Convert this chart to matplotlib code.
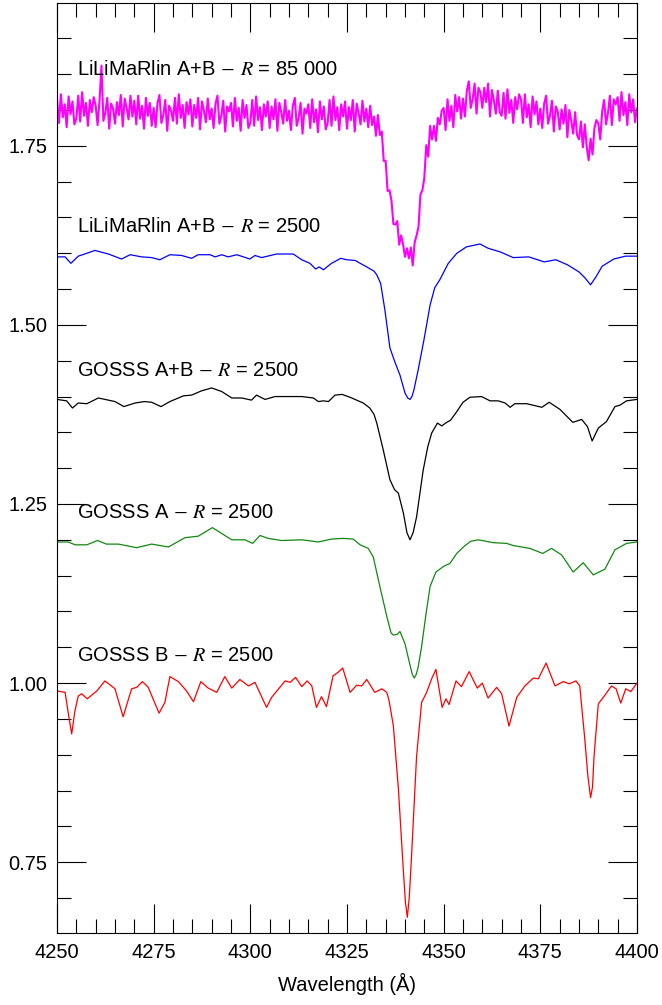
import matplotlib
matplotlib.use("Agg")
import matplotlib.pyplot as plt
from matplotlib.ticker import MultipleLocator, FormatStrFormatter
import numpy as np

plt.rcParams['font.family'] = ['Liberation Sans', 'DejaVu Sans']
plt.rcParams['mathtext.fontset'] = 'stix'

# continuum level of each normalized spectrum in the stack
offsets = [1.8, 1.6, 1.4, 1.2, 1.0]
labels = [r"LiLiMaRlin A+B $-$ $R$ = 85 000",
          r"LiLiMaRlin A+B $-$ $R$ = 2500",
          r"GOSSS A+B $-$ $R$ = 2500",
          r"GOSSS A $-$ $R$ = 2500",
          r"GOSSS B $-$ $R$ = 2500"]
label_y = [1.849, 1.630, 1.429, 1.230, 1.031]
colors = ["#ff00ff", "#0000ff", "#000000", "#118811", "#ff0000"]
widths = [1.5, 0.9, 0.9, 0.9, 0.9]

# high resolution spectrum, sampled every 0.5 A from 4250 to 4400
hires_flux = [
    1.015, 0.982, 1.022, 0.990, 1.008, 0.976, 1.019, 0.994, 1.012, 0.980,
    0.988, 1.020, 0.984, 1.025, 0.992, 1.010, 0.978, 1.014, 0.997, 1.018,
    1.006, 0.979, 1.013, 1.062, 0.985, 0.996, 1.017, 0.974, 1.009, 1.002,
    0.981, 1.011, 0.993, 1.021, 0.977, 1.016, 1.003, 0.987, 1.020, 0.991,
    1.013, 0.980, 1.020, 0.988, 1.006, 0.974, 1.017, 0.992, 1.010, 0.978,
    1.003, 0.976, 1.010, 1.021, 0.982, 0.993, 1.014, 0.971, 1.006, 0.999,
    0.985, 1.017, 0.981, 1.022, 0.989, 1.007, 0.975, 1.011, 0.994, 1.015,
    0.977, 1.007, 0.989, 1.017, 0.973, 1.012, 0.999, 0.983, 1.016, 0.987,
    1.002, 0.975, 1.009, 1.020, 0.981, 0.992, 1.013, 0.970, 1.005, 0.998,
    1.010, 0.977, 1.017, 0.985, 1.003, 0.971, 1.014, 0.989, 1.007, 0.975,
    0.982, 1.014, 0.978, 1.019, 0.986, 1.004, 0.972, 1.008, 0.991, 1.012,
    0.975, 1.005, 0.987, 1.015, 0.971, 1.010, 0.997, 0.981, 1.014, 0.985,
    0.999, 0.972, 1.006, 1.017, 0.978, 0.989, 1.010, 0.967, 1.002, 0.995,
    1.008, 0.975, 1.015, 0.983, 1.001, 0.969, 1.012, 0.987, 1.005, 0.973,
    0.982, 1.014, 0.978, 1.019, 0.986, 1.004, 0.972, 1.008, 0.991, 1.012,
    0.974, 1.004, 0.986, 1.014, 0.970, 1.009, 0.996, 0.980, 1.013, 0.984,
    1.002, 0.976, 1.006, 0.979, 0.991, 0.964, 0.993, 0.965, 0.970, 0.929,
    0.929, 0.887, 0.888, 0.874, 0.841, 0.840, 0.845, 0.812, 0.825, 0.813,
    0.795, 0.807, 0.793, 0.808, 0.783, 0.815, 0.825, 0.837, 0.882, 0.888,
    0.905, 0.951, 0.935, 0.978, 0.959, 0.978, 0.957, 0.989, 0.980, 0.999,
    1.003, 0.972, 1.015, 0.985, 1.006, 0.976, 1.021, 0.998, 1.018, 0.988,
    1.016, 0.991, 1.027, 1.040, 1.003, 1.015, 1.037, 0.995, 1.031, 1.025,
    1.003, 1.031, 1.011, 1.037, 0.991, 1.028, 1.013, 0.995, 1.027, 0.997,
    0.992, 1.024, 0.988, 1.029, 0.996, 1.014, 0.982, 1.018, 1.001, 1.022,
    1.015, 0.982, 1.022, 0.990, 1.008, 0.976, 1.019, 0.994, 1.012, 0.980,
    1.002, 0.975, 1.009, 1.020, 0.981, 0.992, 1.013, 0.970, 1.005, 0.998,
    0.973, 1.001, 0.981, 1.007, 0.962, 1.000, 0.985, 0.967, 0.997, 0.965,
    0.959, 0.984, 0.948, 0.980, 0.949, 0.930, 0.960, 0.938, 0.975, 0.986,
    0.981, 0.959, 0.998, 1.014, 0.980, 0.996, 1.020, 0.979, 1.015, 1.008,
    1.018, 0.985, 1.025, 0.993, 1.011, 0.979, 1.022, 0.997, 1.015, 0.983,
    1.002]
hires_wl = np.linspace(4250, 4400, len(hires_flux))

# (wavelength, normalized flux) pairs of the R = 2500 spectra
lilimarlin_lores = [
    (4250.0, 0.995), (4252.1, 0.995), (4253.6, 0.986), (4255.5, 0.996), (4257.7, 1.000),
    (4259.8, 1.004), (4263.3, 0.999), (4266.7, 0.992), (4268.9, 0.998), (4271.9, 0.995),
    (4274.5, 0.994), (4276.6, 0.991), (4279.2, 0.998), (4282.2, 0.997), (4284.8, 0.993),
    (4286.5, 0.998), (4289.6, 0.998), (4290.9, 0.995), (4292.6, 0.998), (4294.3, 0.995),
    (4296.5, 0.998), (4299.9, 0.992), (4301.2, 0.997), (4302.9, 0.994), (4306.8, 0.999),
    (4311.1, 0.999), (4313.3, 0.991), (4315.4, 0.986), (4316.9, 0.978), (4317.8, 0.981),
    (4318.9, 0.977), (4321.0, 0.986), (4323.4, 0.993), (4324.9, 0.991), (4327.1, 0.990),
    (4330.1, 0.981), (4332.0, 0.975), (4332.7, 0.970), (4333.7, 0.958), (4334.8, 0.921),
    (4336.1, 0.868), (4337.4, 0.848), (4338.7, 0.830), (4340.0, 0.805), (4340.7, 0.798),
    (4341.3, 0.796), (4341.8, 0.800), (4342.3, 0.809), (4343.4, 0.837), (4344.9, 0.879),
    (4346.5, 0.928), (4347.7, 0.952), (4349.0, 0.963), (4351.2, 0.986), (4353.4, 1.000),
    (4355.9, 1.009), (4359.4, 1.013), (4361.5, 1.007), (4364.6, 1.002), (4368.0, 0.994),
    (4372.0, 0.995), (4376.0, 0.988), (4379.0, 0.991), (4382.0, 0.984), (4385.0, 0.974),
    (4386.5, 0.966), (4388.0, 0.956), (4389.5, 0.968), (4391.0, 0.982), (4394.0, 0.992),
    (4397.0, 0.996), (4400.0, 0.996)]

gosss_ab = [
    (4250.0, 0.996), (4252.5, 0.994), (4254.0, 0.984), (4255.5, 0.991), (4257.7, 0.990),
    (4260.7, 0.998), (4265.0, 0.993), (4267.3, 0.986), (4270.2, 0.991), (4272.6, 0.993),
    (4274.5, 0.992), (4276.9, 0.986), (4279.2, 0.993), (4282.7, 1.001), (4284.8, 1.002),
    (4287.4, 1.008), (4290.0, 1.012), (4292.6, 1.007), (4295.2, 0.998), (4297.8, 0.998),
    (4300.3, 0.995), (4301.6, 1.002), (4303.8, 0.996), (4306.4, 1.000), (4309.8, 1.000),
    (4313.3, 1.000), (4316.3, 0.998), (4317.6, 0.993), (4318.9, 0.994), (4320.2, 0.993),
    (4321.9, 1.002), (4323.7, 1.003), (4325.8, 0.999), (4327.5, 0.995), (4329.2, 0.991),
    (4330.9, 0.984), (4332.0, 0.975), (4332.7, 0.963), (4334.4, 0.925), (4336.1, 0.884),
    (4337.3, 0.870), (4338.3, 0.865), (4339.6, 0.837), (4340.5, 0.810), (4341.3, 0.800),
    (4342.1, 0.810), (4343.0, 0.832), (4344.7, 0.897), (4345.9, 0.930), (4346.9, 0.949),
    (4348.4, 0.963), (4349.5, 0.959), (4350.8, 0.964), (4351.8, 0.967), (4353.4, 0.979),
    (4355.0, 0.992), (4356.8, 0.999), (4359.8, 1.000), (4362.0, 0.994), (4364.1, 0.994),
    (4365.9, 0.991), (4367.2, 0.985), (4368.4, 0.990), (4371.5, 0.990), (4375.4, 0.985),
    (4377.3, 0.992), (4380.1, 0.982), (4383.4, 0.964), (4385.7, 0.968), (4387.2, 0.958),
    (4388.4, 0.938), (4390.0, 0.956), (4392.1, 0.965), (4394.3, 0.986), (4395.6, 0.988),
    (4397.3, 0.994), (4400.0, 0.996)]

gosss_a = [
    (4250.0, 0.997), (4252.9, 0.997), (4254.7, 0.993), (4257.7, 0.993), (4260.5, 0.999),
    (4262.8, 0.994), (4265.9, 0.994), (4270.6, 0.989), (4274.5, 0.994), (4278.8, 0.990),
    (4283.1, 1.003), (4286.5, 1.005), (4290.2, 1.017), (4295.2, 1.000), (4298.6, 1.000),
    (4300.6, 0.995), (4302.5, 1.006), (4304.6, 1.002), (4308.1, 0.999), (4313.3, 1.000),
    (4317.6, 0.997), (4321.0, 1.001), (4324.0, 1.002), (4326.6, 1.001), (4328.4, 0.993),
    (4330.5, 0.988), (4331.8, 0.976), (4333.5, 0.935), (4335.3, 0.893), (4336.4, 0.870),
    (4337.0, 0.867), (4338.0, 0.868), (4338.7, 0.872), (4340.0, 0.855), (4341.3, 0.825),
    (4341.9, 0.812), (4342.4, 0.807), (4342.9, 0.812), (4343.4, 0.822), (4344.3, 0.851),
    (4345.4, 0.895), (4346.5, 0.935), (4348.0, 0.955), (4350.0, 0.963), (4351.6, 0.967),
    (4353.4, 0.981), (4355.1, 0.990), (4357.0, 0.998), (4359.0, 1.000), (4362.8, 0.996),
    (4366.3, 0.995), (4368.0, 0.992), (4372.3, 0.988), (4375.6, 0.981), (4377.9, 0.988),
    (4380.5, 0.979), (4383.5, 0.955), (4386.1, 0.968), (4388.7, 0.951), (4391.7, 0.959),
    (4394.3, 0.986), (4397.3, 0.995), (4400.0, 0.997)]

gosss_b = [
    (4250.0, 0.989), (4252.1, 0.987), (4253.0, 0.955), (4253.8, 0.929), (4254.6, 0.960),
    (4255.5, 0.982), (4256.4, 0.985), (4257.8, 0.978), (4260.3, 0.989), (4262.4, 1.003),
    (4265.0, 0.992), (4267.1, 0.953), (4269.3, 0.992), (4270.6, 0.994), (4272.1, 1.002),
    (4273.6, 0.994), (4276.4, 0.958), (4277.9, 0.973), (4279.2, 1.009), (4281.4, 1.002),
    (4283.5, 0.989), (4285.3, 0.974), (4287.2, 1.002), (4289.1, 0.993), (4291.3, 0.987),
    (4293.4, 1.009), (4295.2, 0.993), (4297.3, 1.005), (4299.5, 0.996), (4301.2, 1.001),
    (4304.2, 0.966), (4305.5, 0.980), (4309.0, 1.003), (4310.3, 1.001), (4311.7, 1.008),
    (4313.3, 0.995), (4314.7, 1.003), (4315.9, 0.996), (4317.1, 0.966), (4318.4, 0.981),
    (4319.7, 0.967), (4321.4, 1.010), (4322.7, 1.015), (4323.9, 1.021), (4325.8, 0.987),
    (4327.5, 0.997), (4328.8, 0.996), (4330.1, 1.005), (4332.2, 0.987), (4334.0, 0.992),
    (4335.3, 0.987), (4335.9, 0.975), (4337.0, 0.940), (4338.3, 0.852), (4339.6, 0.736),
    (4340.1, 0.695), (4340.6, 0.673), (4341.1, 0.700), (4341.7, 0.759), (4343.0, 0.898),
    (4344.3, 0.973), (4345.6, 0.987), (4346.9, 1.006), (4348.0, 1.019), (4349.6, 0.966),
    (4350.6, 0.978), (4351.4, 0.970), (4353.2, 1.003), (4354.6, 0.995), (4356.6, 1.016),
    (4358.7, 0.993), (4360.0, 1.000), (4361.5, 0.979), (4363.7, 0.994), (4365.0, 0.985),
    (4366.9, 0.940), (4368.9, 0.980), (4371.0, 0.996), (4373.2, 1.007), (4374.5, 1.006),
    (4376.5, 1.028), (4378.8, 0.996), (4380.9, 1.002), (4382.5, 0.999), (4384.2, 1.003),
    (4385.2, 0.996), (4386.5, 0.922), (4387.3, 0.870), (4388.0, 0.840), (4388.5, 0.855),
    (4388.9, 0.898), (4390.0, 0.971), (4391.7, 0.983), (4393.4, 0.996), (4394.6, 0.992),
    (4395.8, 0.972), (4397.1, 0.992), (4398.4, 0.988), (4400.0, 1.000)]


def main():
    fig = plt.figure(figsize=(6.62, 10.05), dpi=100)
    ax = fig.add_axes([0.0861, 0.0716, 0.8761, 0.9251])

    spectra = [(hires_wl, np.array(hires_flux))]
    for sp in [lilimarlin_lores, gosss_ab, gosss_a, gosss_b]:
        arr = np.array(sp).T
        spectra.append((arr[0], arr[1]))

    # shift each normalized spectrum so its continuum sits at its offset
    for (wl, fl), off, col, lw in zip(spectra, offsets, colors, widths):
        ax.plot(wl, fl - 1.0 + off, color=col, lw=lw, solid_joinstyle='round')

    for lab, ly in zip(labels, label_y):
        ax.text(4255.2, ly, lab, fontsize=14.5, va='baseline', ha='left')

    ax.set_xlim(4250, 4400)
    ax.set_ylim(0.651, 1.949)
    ax.xaxis.set_major_locator(MultipleLocator(25))
    ax.xaxis.set_minor_locator(MultipleLocator(5))
    ax.yaxis.set_major_locator(MultipleLocator(0.25))
    ax.yaxis.set_minor_locator(MultipleLocator(0.05))
    ax.yaxis.set_major_formatter(FormatStrFormatter('%.2f'))
    ax.tick_params(which='both', direction='in', top=True, right=True,
                   width=0.8, labelsize=14.5)
    ax.tick_params(which='major', length=21, pad=7)
    ax.tick_params(which='minor', length=10)
    ax.set_xlabel("Wavelength (Å)", fontsize=14.5, labelpad=8)

    fig.savefig("out.png", dpi=100)


if __name__ == "__main__":
    main()
